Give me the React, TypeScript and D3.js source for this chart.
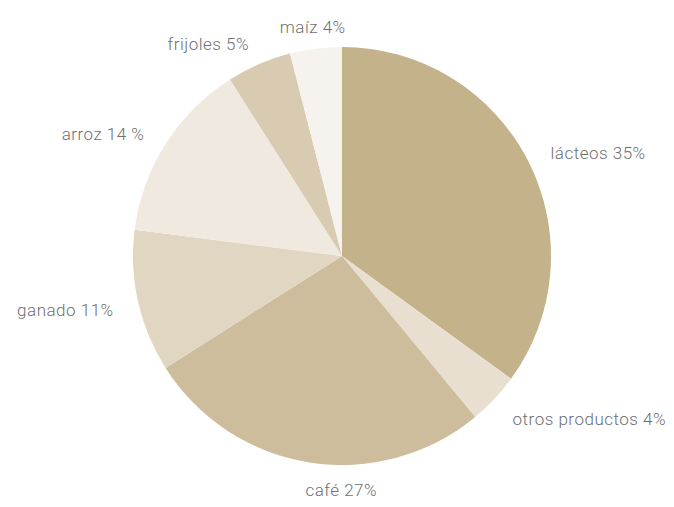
import React from 'react';
import * as d3 from 'd3';

const categories = ['lácteos', 'otros productos', 'café', 'ganado', 'arroz', 'frijoles', 'maíz'];
const shares = [35, 4, 27, 11, 14, 5, 4];
const labels = ['lácteos 35%', 'otros productos 4%', 'café 27%', 'ganado 11%', 'arroz 14 %', 'frijoles 5%', 'maíz 4%'];
const colors = ['#c4b28a', '#e8dfd1', '#cdbd9c', '#e0d6c2', '#f0e9e0', '#d8cbb1', '#f6f3ee'];

const width = 674;
const height = 507;
const cx = 342;
const cy = 256;
const radius = 209;
const labelRadius = 234;

export default function App() {
  const data = categories.map((c, i) => ({ name: c, value: shares[i], label: labels[i], color: colors[i] }));
  const pie = d3.pie<typeof data[number]>().value(d => d.value).sort(null);
  const arcs = pie(data);
  const arc = d3.arc<d3.PieArcDatum<typeof data[number]>>().innerRadius(0).outerRadius(radius);

  return (
    <svg width={width} height={height} style={{ position: 'absolute', left: 0, top: 0, background: '#fff' }}>
      <g transform={`translate(${cx},${cy})`}>
        {arcs.map(a => (
          <path key={a.data.name} d={arc(a) || ''} fill={a.data.color} />
        ))}
        {arcs.map(a => {
          const mid = (a.startAngle + a.endAngle) / 2;
          const s = Math.sin(mid);
          const c = -Math.cos(mid);
          const x = s * labelRadius;
          const y = c * labelRadius;
          let anchor: 'start' | 'end' | 'middle' = 'middle';
          if (s > 0.3) anchor = 'start';
          else if (s < -0.3) anchor = 'end';
          else if (c > 0) anchor = 'start';
          return (
            <text
              key={a.data.name}
              x={x}
              y={y}
              dy={3}
              textAnchor={anchor}
              dominantBaseline="central"
              fontFamily="Roboto, sans-serif"
              fontWeight={300}
              fontSize={17}
              letterSpacing={0.5}
              fill="#6f6f6f"
            >
              {a.data.label}
            </text>
          );
        })}
      </g>
    </svg>
  );
}
